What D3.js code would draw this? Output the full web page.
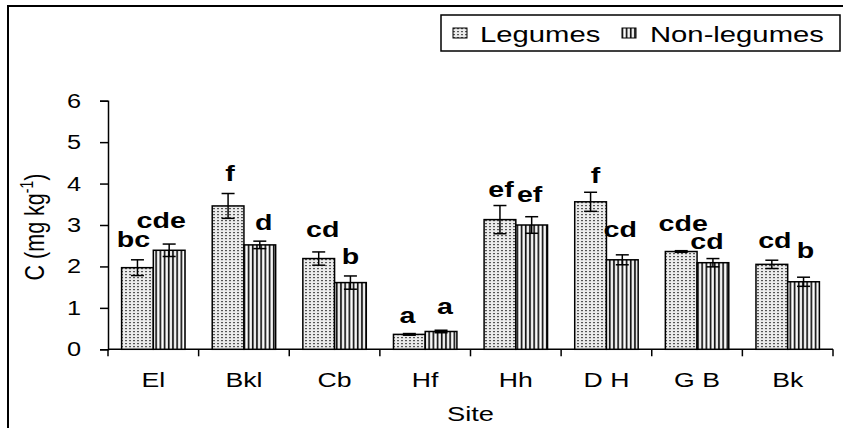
<!DOCTYPE html>
<html><head><meta charset="utf-8">
<script src="https://cdn.jsdelivr.net/npm/d3@7/dist/d3.min.js"></script>
<style>
html,body{margin:0;padding:0;background:#fff;}
text{font-family:"Liberation Sans",Arial,sans-serif;fill:#000;}
</style></head>
<body>
<svg id="chart" width="843" height="428"></svg>
<script>
// ---- data ----
const sites = ["El","Bkl","Cb","Hf","Hh","D H","G B","Bk"];
const seriesNames = ["Legumes","Non-legumes"];
const legumes = [1.97,3.46,2.19,0.36,3.13,3.56,2.36,2.05];
const legumesErr = [0.19,0.30,0.16,0.02,0.34,0.23,0.02,0.10];
const nonLegumes = [2.39,2.52,1.61,0.43,3.00,2.16,2.09,1.63];
const nonLegumesErr = [0.15,0.09,0.16,0.03,0.20,0.12,0.10,0.11];
const legumesLetters = ["bc","f","cd","a","ef","f","cde","cd"];
const nonLegumesLetters = ["cde","d","b","a","ef","cd","cd","b"];
const yTicks = [0,1,2,3,4,5,6];

// ---- layout (label nudges, px) ----
const legLabelDx = [-4,2,4,-2,1,5,2,3];
const legLabelGap = [13,13,15,11,9,9,20,12];
const nonLabelDx = [-8,4,0,4,-2,-2,-6,2];
const nonLabelGap = [16,11,12,16,15,18,10,19];

const SX = 1.3; // horizontal stretch of the original image text
const svg = d3.select("#chart");
const pLeft = 108, pRight = 833, pTop = 100.7, pBottom = 349.3;

const x0 = d3.scaleBand().domain(sites).range([pLeft,pRight]).paddingInner(0.3).paddingOuter(0.15);
const x1 = d3.scaleBand().domain(seriesNames).range([0,x0.bandwidth()]);
const y = d3.scaleLinear().domain([0,6]).range([pBottom,pTop]);

// patterns
const defs = svg.append("defs");
const pd = defs.append("pattern").attr("id","dots").attr("patternUnits","userSpaceOnUse")
  .attr("width",4).attr("height",3);
pd.append("rect").attr("width",4).attr("height",3).attr("fill","#ececec");
pd.append("rect").attr("x",1).attr("y",1).attr("width",2).attr("height",1.2).attr("fill","#555");
const ps = defs.append("pattern").attr("id","stripes").attr("patternUnits","userSpaceOnUse")
  .attr("width",4.2).attr("height",4);
ps.append("rect").attr("width",4.2).attr("height",4).attr("fill","#d8d8d8");
ps.append("rect").attr("x",0).attr("width",1.5).attr("height",4).attr("fill","#111");
ps.append("rect").attr("x",2.4).attr("width",1).attr("height",4).attr("fill","#fff");

// outer frame
svg.append("rect").attr("x",8).attr("y",6).attr("width",850).attr("height",440)
  .attr("fill","none").attr("stroke","#000").attr("stroke-width",2);

function stext(g, x, yy, str, size, weight, anchor){
  return g.append("text").attr("transform",`translate(${x},${yy}) scale(${SX},1)`)
    .attr("font-size",size).attr("font-weight",weight||"normal")
    .attr("text-anchor",anchor||"middle").text(str);
}

// legend
const lg = svg.append("g");
lg.append("rect").attr("x",441).attr("y",15).attr("width",399).attr("height",36)
  .attr("fill","#fff").attr("stroke","#000").attr("stroke-width",1.5);
const legItems = [{name:seriesNames[0],fill:"url(#dots)",sx:453,tx:480},{name:seriesNames[1],fill:"url(#stripes)",sx:622,tx:650}];
legItems.forEach(d=>{
  lg.append("rect").attr("x",d.sx).attr("y",28).attr("width",14).attr("height",10)
    .attr("fill",d.fill).attr("stroke","#000").attr("stroke-width",1);
  stext(lg,d.tx,41.5,d.name,22.5,"normal","start");
});

// y axis
const ya = svg.append("g").attr("transform",`translate(${pLeft},0)`)
  .call(d3.axisLeft(y).tickValues(yTicks).tickSize(8).tickFormat(d3.format("d")));
ya.select(".domain").attr("stroke","#000").attr("stroke-width",1.5);
ya.selectAll(".tick line").attr("stroke","#000").attr("stroke-width",1.5);
ya.selectAll(".tick text").remove();
yTicks.forEach(t=>{ stext(svg,81,y(t)+7,String(t),19.5,"normal","end"); });

// x axis
svg.append("line").attr("x1",pLeft).attr("x2",pRight).attr("y1",pBottom).attr("y2",pBottom)
  .attr("stroke","#000").attr("stroke-width",1.5);
const bounds = sites.map(s=>x0(s)-x0.step()*x0.paddingInner()/2);
bounds.push(pRight);
bounds[0]=pLeft;
svg.selectAll(".xt").data(bounds).join("line").attr("class","xt")
  .attr("x1",d=>d).attr("x2",d=>d).attr("y1",pBottom).attr("y2",pBottom+7)
  .attr("stroke","#000").attr("stroke-width",1.5);
sites.forEach(s=>{ stext(svg,x0(s)+x0.bandwidth()/2,387,s,20.5); });
stext(svg,(pLeft+pRight)/2,420.5,"Site",21);

// y title
const yt = svg.append("text").attr("transform",`translate(44,227) rotate(-90) scale(1,1.25)`)
  .attr("font-size",21.5).attr("text-anchor","middle");
yt.append("tspan").text("C (mg kg");
yt.append("tspan").attr("font-size",14).attr("dy",-9).text("-1");
yt.append("tspan").attr("dy",9).text(")");

// bars
const series = [
  {name:seriesNames[0],vals:legumes,err:legumesErr,letters:legumesLetters,fill:"url(#dots)",dx:legLabelDx,gap:legLabelGap},
  {name:seriesNames[1],vals:nonLegumes,err:nonLegumesErr,letters:nonLegumesLetters,fill:"url(#stripes)",dx:nonLabelDx,gap:nonLabelGap}
];
series.forEach(se=>{
  const g = svg.append("g");
  sites.forEach((s,i)=>{
    const bx = x0(s)+x1(se.name), bw = x1.bandwidth(), cx = bx+bw/2;
    g.append("rect").attr("x",bx).attr("y",y(se.vals[i])).attr("width",bw)
      .attr("height",y(0)-y(se.vals[i])).attr("fill",se.fill).attr("stroke","#000").attr("stroke-width",1.5);
    const hi = y(se.vals[i]+se.err[i]), lo = y(se.vals[i]-se.err[i]);
    g.append("line").attr("x1",cx).attr("x2",cx).attr("y1",hi).attr("y2",lo).attr("stroke","#000").attr("stroke-width",1.5);
    [hi,lo].forEach(yy=>g.append("line").attr("x1",cx-6.5).attr("x2",cx+6.5).attr("y1",yy).attr("y2",yy)
      .attr("stroke","#000").attr("stroke-width",1.5));
    stext(g,cx+se.dx[i],hi-se.gap[i],se.letters[i],22,"bold");
  });
});
</script>
</body></html>
